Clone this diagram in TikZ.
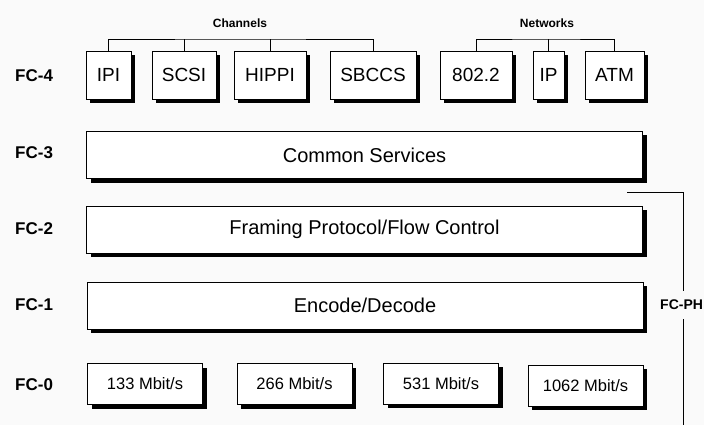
\documentclass[tikz,border=0pt]{standalone}
\usepackage{fontspec}
\setmainfont{Liberation Sans}
\usetikzlibrary{shadows}
\definecolor{bgc}{HTML}{FAFAFA}
\begin{document}
\begin{tikzpicture}[x=1pt,y=-1pt,
  box/.style={draw=black,line width=0.9pt,fill=white,inner sep=0pt,
    drop shadow={shadow xshift=4pt,shadow yshift=-4pt,fill=black,opacity=1}},
  top/.style={box,minimum height=48pt,font=\fontsize{19}{22}\selectfont},
  wide/.style={box,minimum width=556pt,minimum height=47pt,font=\fontsize{20}{24}\selectfont},
  rate/.style={box,minimum width=115pt,minimum height=41pt,font=\fontsize{16.5}{20}\selectfont},
  lvl/.style={anchor=west,inner sep=0pt,font=\bfseries\fontsize{17}{20}\selectfont},
  grp/.style={inner sep=0pt,font=\bfseries\fontsize{12}{14}\selectfont},
  wire/.style={draw=black,line width=0.9pt}]
\fill[bgc] (0,0) rectangle (704,425);
\useasboundingbox (0,0) rectangle (704,425);
\clip (0,0) rectangle (704,425);

% FC-4
\node[top,minimum width=45pt] (ipi) at (108.5,75) {IPI};
\node[top,minimum width=64pt] (scsi) at (184,75) {SCSI};
\node[top,minimum width=72pt] (hippi) at (270,75) {HIPPI};
\node[top,minimum width=86pt] (sbccs) at (373,75) {SBCCS};
\node[top,minimum width=72pt] (n802) at (476,75) {802.2};
\node[top,minimum width=31pt] (ip) at (548.5,75) {IP};
\node[top,minimum width=59pt] (atm) at (614.5,75) {ATM};

\node[grp] (chan) at (240,23) {Channels};
\node[grp] (netw) at (547,23) {Networks};
\coordinate (chl) at (240,39);
\coordinate (nel) at (547,39);
\draw[wire] (ipi.north) |- (chl) -| (sbccs.north);
\draw[wire] (scsi.north) -- (scsi.north |- chl);
\draw[wire] (hippi.north) -- (hippi.north |- chl);
\draw[wire] (n802.north) |- (nel) -| (atm.north);
\draw[wire] (ip.north) -- (ip.north |- nel);

% FC-3..FC-1
\node[wide] (cs) at (364.5,155) {Common Services};
\node[wide] (fp) at (364.5,229.5) {Framing Protocol/Flow Control};
\node[wide] (ed) at (365,305.5) {Encode/Decode};

% FC-0
\node[rate] (r133) at (145,384) {133 Mbit/s};
\node[rate] (r266) at (294.5,384) {266 Mbit/s};
\node[rate] (r531) at (441,383.5) {531 Mbit/s};
\node[rate] (r1062) at (585.5,385.5) {1062 Mbit/s};

% level labels
\node[lvl] (l4) at (15,75.5) {FC-4};
\node[lvl] (l3) at (15,152.5) {FC-3};
\node[lvl] (l2) at (15,228.5) {FC-2};
\node[lvl] (l1) at (15,305) {FC-1};
\node[lvl] (l0) at (15,385) {FC-0};

% FC-PH bracket
\coordinate (phs) at (627,192);
\coordinate (phc) at (683,192);
\coordinate (phe) at (683,425);
\node[anchor=west,inner xsep=0pt,inner ysep=9pt,font=\bfseries\fontsize{14}{16}\selectfont] (ph) at (660,305) {FC-PH};
\draw[wire] (phs) -- (phc) -- (phc |- ph.north);
\draw[wire] (phc |- ph.south) -- (phe);
\end{tikzpicture}
\end{document}
